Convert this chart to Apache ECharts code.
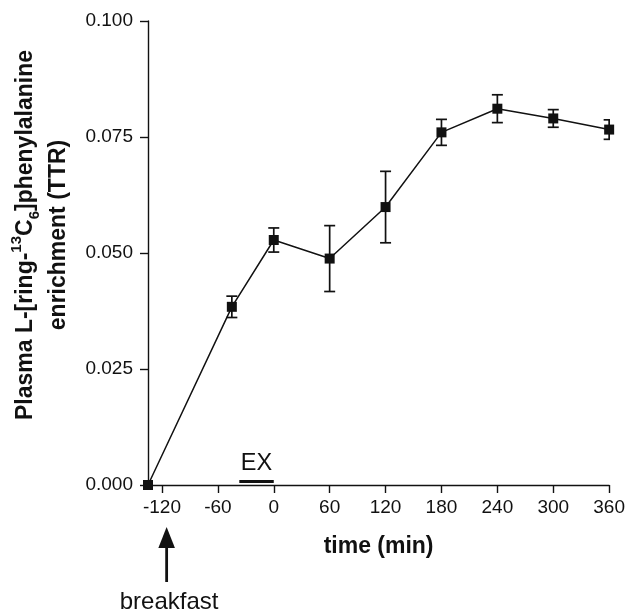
<!DOCTYPE html>
<html><head><meta charset="utf-8">
<script src="https://cdn.jsdelivr.net/npm/echarts@6/dist/echarts.min.js"></script>
<style>html,body{margin:0;padding:0;background:#fff}#c{width:628px;height:614px}</style>
</head><body><div id="c"></div>
<script>
// ---- data ----
const times = [-135, -45, 0, 60, 120, 180, 240, 300, 360];
const ttr = [0.0, 0.0384, 0.0528, 0.0488, 0.0599, 0.0760, 0.0811, 0.0790, 0.0766];
const sem = [0, 0.0023, 0.0026, 0.0071, 0.0077, 0.0028, 0.0030, 0.0019, 0.0021];
const xTicks = [-120, -60, 0, 60, 120, 180, 240, 300, 360];
const yTicks = [0, 0.025, 0.05, 0.075, 0.1];
const exPeriod = [-37, 0];
const exLabel = 'EX';
const breakfastTime = -115;
const breakfastLabel = 'breakfast';
const xTitle = 'time (min)';

const FONT = '"Liberation Sans", Arial, Helvetica, sans-serif';
const INK = '#111';

const lineData = times.map((t, i) => [t, ttr[i]]);
const errData = times.map((t, i) => [t, ttr[i], sem[i]]);

const chart = echarts.init(document.getElementById('c'), null, {renderer: 'canvas'});

chart.setOption({
  animation: false,
  backgroundColor: '#fff',
  grid: {left: 148, right: 17, top: 21, bottom: 129, containLabel: false},
  xAxis: {
    type: 'value', min: -135, max: 360,
    splitLine: {show: false},
    axisLine: {show: true, onZero: false, lineStyle: {color: INK, width: 1.4}},
    axisTick: {show: true, length: 8, customValues: xTicks, lineStyle: {color: INK, width: 1.4}},
    axisLabel: {show: true, customValues: xTicks, margin: 13, fontSize: 19, fontFamily: FONT, color: INK},
    name: xTitle, nameLocation: 'middle', nameGap: 50,
    nameTextStyle: {fontSize: 23, fontWeight: 'bold', fontFamily: FONT, color: INK}
  },
  yAxis: {
    type: 'value', min: yTicks[0], max: yTicks[yTicks.length - 1], interval: 0.025,
    splitLine: {show: false},
    axisLine: {show: true, onZero: false, lineStyle: {color: INK, width: 1.4}},
    axisTick: {show: true, length: 8, lineStyle: {color: INK, width: 1.4}},
    axisLabel: {margin: 15, fontSize: 19, fontFamily: FONT, color: INK,
      formatter: v => v.toFixed(3)}
  },
  series: [
    {
      type: 'custom', clip: true, z: 2,
      data: errData,
      renderItem: function (params, api) {
        const x = api.value(0), y = api.value(1), e = api.value(2);
        if (!e) return null;
        const top = api.coord([x, y + e]);
        const bot = api.coord([x, y - e]);
        const hw = 5.5;
        const st = {stroke: INK, lineWidth: 1.7};
        return {type: 'group', children: [
          {type: 'line', shape: {x1: top[0], y1: top[1], x2: bot[0], y2: bot[1]}, style: st},
          {type: 'line', shape: {x1: top[0] - hw, y1: top[1], x2: top[0] + hw, y2: top[1]}, style: st},
          {type: 'line', shape: {x1: bot[0] - hw, y1: bot[1], x2: bot[0] + hw, y2: bot[1]}, style: st}
        ]};
      }
    },
    {
      type: 'line', z: 3, data: lineData,
      symbol: 'rect', symbolSize: 10, showSymbol: true,
      lineStyle: {color: INK, width: 1.5},
      itemStyle: {color: INK}
    }
  ]
});

// ---- annotations positioned through the axes ----
const p = (x, y) => chart.convertToPixel({gridIndex: 0}, [x, y]);
const exA = p(exPeriod[0], 0), exB = p(exPeriod[1], 0);
const bk = p(breakfastTime, 0);
const axisY = exA[1];

chart.setOption({
  graphic: [
    {type: 'rect', shape: {x: exA[0], y: axisY - 5, width: exB[0] - exA[0], height: 3}, style: {fill: INK}},
    {type: 'text', x: (exA[0] + exB[0]) / 2, y: axisY - 21,
      style: {text: exLabel, fontSize: 23.5, fontFamily: FONT, fill: INK, align: 'center', verticalAlign: 'middle'}},
    {type: 'polygon', shape: {points: [[bk[0], axisY + 42], [bk[0] - 8.3, axisY + 63], [bk[0] + 8.3, axisY + 63]]}, style: {fill: INK}},
    {type: 'rect', shape: {x: bk[0] - 1.4, y: axisY + 60, width: 2.8, height: 37}, style: {fill: INK}},
    {type: 'text', x: bk[0] + 2.5, y: axisY + 117,
      style: {text: breakfastLabel, fontSize: 24, fontFamily: FONT, fill: INK, align: 'center', verticalAlign: 'middle'}},
    {type: 'text', x: 42, y: 235, rotation: Math.PI / 2,
      style: {
        text: 'Plasma L-[ring-{sup|13}C{sub|6}]phenylalanine\nenrichment (TTR)',
        fontSize: 23, fontWeight: 'bold', fontFamily: FONT, fill: INK,
        align: 'center', verticalAlign: 'middle', lineHeight: 33,
        rich: {
          sup: {fontSize: 15, fontWeight: 'bold', fontFamily: FONT, fill: INK, verticalAlign: 'top', lineHeight: 15},
          sub: {fontSize: 15, fontWeight: 'bold', fontFamily: FONT, fill: INK, verticalAlign: 'bottom', lineHeight: 15}
        }
      }}
  ]
});
</script>
</body></html>
